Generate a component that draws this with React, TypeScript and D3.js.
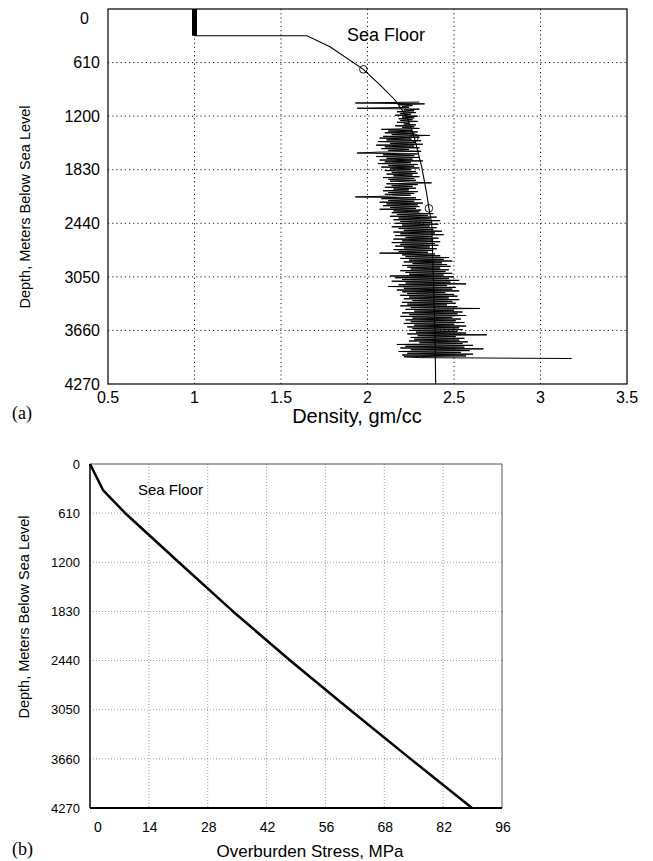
import React from 'react';
import * as d3 from 'd3';

// ---------- data ----------
const depthTicks = [0, 610, 1220, 1830, 2440, 3050, 3660, 4270];
const depthTickLabels = ['0', '610', '1200', '1830', '2440', '3050', '3660', '4270'];
const densityTicks = [0.5, 1, 1.5, 2, 2.5, 3, 3.5];
const densityTickLabels = ['0.5', '1', '1.5', '2', '2.5', '3', '3.5'];
const stressTicks = [0, 13.79, 27.58, 41.37, 55.16, 68.95, 82.74, 96.53];
const stressTickLabels = ['0', '14', '28', '42', '56', '68', '82', '96'];

const waterDensity = 1.0;
const seaFloorDepth = 305;

// compaction trend (density vs depth)
const trendDensity = [1.0, 1.65, 1.783, 1.976, 2.072, 2.159, 2.227, 2.271, 2.313, 2.342, 2.355, 2.371, 2.38, 2.39, 2.394];
const trendDepth = [305, 305, 429, 687, 865, 1036, 1226, 1466, 1796, 2099, 2270, 2437, 3052, 3655, 4270];

// calibration points (circles)
const markDensity = [1.976, 2.271, 2.355];
const markDepth = [687, 1466, 2270];

// density log, sampled every 10 m from 1060 m
const logStartDepth = 1060;
const logStepDepth = 10;
const densityLog = [
  2.30, 1.93, 2.33, 2.18, 2.26, 2.20, 2.24, 1.94, 2.30, 2.21,
  2.27, 2.17, 2.28, 2.19, 2.25, 2.16, 2.29, 2.20, 2.27, 2.18,
  2.26, 2.19, 2.29, 2.17, 2.24, 2.21, 2.28, 2.16, 2.27, 2.20,
  2.30, 2.08, 2.26, 2.12, 2.29, 2.10, 2.27, 2.14, 2.36, 2.09,
  2.30, 2.07, 2.25, 2.11, 2.31, 2.06, 2.28, 2.13, 2.32, 2.05,
  2.27, 2.10, 2.30, 2.08, 2.24, 2.12, 2.31, 2.06, 1.94, 2.29,
  2.09, 2.27, 2.05, 2.30, 2.11, 2.26, 2.07, 2.32, 2.10, 2.25,
  2.06, 2.29, 2.12, 2.27, 2.08, 2.30, 2.13, 2.25, 2.10, 2.28,
  2.14, 2.29, 2.11, 2.26, 2.15, 2.30, 2.09, 2.27, 2.12, 2.28,
  2.13, 2.25, 2.37, 2.11, 2.29, 2.14, 2.26, 2.10, 2.28, 2.15,
  2.24, 2.09, 2.29, 2.12, 2.27, 2.10, 2.25, 2.14, 1.93, 2.28,
  2.08, 2.31, 2.12, 2.27, 2.07, 2.32, 2.11, 2.29, 2.09, 2.30,
  2.13, 2.28, 2.07, 2.31, 2.15, 2.30, 2.14, 2.38, 2.17, 2.35,
  2.13, 2.40, 2.18, 2.36, 2.15, 2.42, 2.19, 2.37, 2.16, 2.41,
  2.20, 2.36, 2.14, 2.40, 2.18, 2.38, 2.21, 2.43, 2.15, 2.39,
  2.19, 2.44, 2.16, 2.37, 2.22, 2.41, 2.15, 2.38, 2.20, 2.42,
  2.14, 2.39, 2.19, 2.41, 2.16, 2.36, 2.21, 2.40, 2.15, 2.38,
  2.18, 2.35, 2.07, 2.39, 2.20, 2.42, 2.22, 2.47, 2.19, 2.44,
  2.24, 2.49, 2.21, 2.43, 2.26, 2.46, 2.20, 2.48, 2.23, 2.42,
  2.25, 2.47, 2.19, 2.45, 2.22, 2.49, 2.24, 2.44, 2.13, 2.50,
  2.16, 2.47, 2.20, 2.53, 2.14, 2.48, 2.22, 2.57, 2.18, 2.46,
  2.12, 2.51, 2.21, 2.49, 2.17, 2.53, 2.20, 2.45, 2.23, 2.50,
  2.19, 2.52, 2.24, 2.47, 2.21, 2.53, 2.26, 2.49, 2.20, 2.51,
  2.23, 2.46, 2.19, 2.52, 2.25, 2.65, 2.22, 2.50, 2.27, 2.55,
  2.20, 2.52, 2.24, 2.57, 2.19, 2.49, 2.26, 2.54, 2.22, 2.51,
  2.25, 2.56, 2.21, 2.50, 2.27, 2.57, 2.23, 2.53, 2.26, 2.55,
  2.24, 2.52, 2.28, 2.57, 2.23, 2.69, 2.29, 2.51, 2.25, 2.56,
  2.27, 2.53, 2.24, 2.58, 2.30, 2.55, 2.17, 2.61, 2.22, 2.56,
  2.19, 2.67, 2.25, 2.59, 2.18, 2.54, 2.23, 2.61, 2.20, 2.57,
  2.21, 2.30, 3.18,
];

// overburden stress vs depth
const stressValues = [0, 3.05, 8.2, 20.8, 33.5, 46.9, 60.9, 75.1, 89.5];
const stressDepth = [0, 323, 608, 1220, 1830, 2440, 3050, 3660, 4270];

// ---------- layout ----------
const W = 653;
const H = 861;
const A = { left: 108, right: 627, top: 9, bottom: 384 };
const B = { left: 90, right: 502, top: 464, bottom: 808 };
const SANS = 'Arial, "Liberation Sans", Helvetica, sans-serif';
const SERIF = '"Times New Roman", "Liberation Serif", serif';

export default function App() {
  const xA = d3.scaleLinear().domain([0.5, 3.5]).range([A.left, A.right]);
  const yA = d3.scaleLinear().domain([0, 4270]).range([A.top, A.bottom]);
  const xB = d3.scaleLinear().domain([0, 96.53]).range([B.left, B.right]);
  const yB = d3.scaleLinear().domain([0, 4270]).range([B.top, B.bottom]);

  const trendLine = d3
    .line<number>()
    .x((_, i) => xA(trendDensity[i]))
    .y((_, i) => yA(trendDepth[i]))(trendDensity) as string;

  const logLine = d3
    .line<number>()
    .x((d) => xA(d))
    .y((_, i) => yA(logStartDepth + i * logStepDepth))(densityLog) as string;

  const stressLine = d3
    .line<number>()
    .x((d) => xB(d))
    .y((_, i) => yB(stressDepth[i]))(stressValues) as string;

  return (
    <svg width={W} height={H} style={{ position: 'absolute', left: 0, top: 0, background: '#fff' }}>
      {/* ===== (a) Density ===== */}
      <g>
        {densityTicks.slice(1, -1).map((t) => (
          <line key={'gx' + t} x1={xA(t)} x2={xA(t)} y1={A.top} y2={A.bottom} stroke="#000" strokeWidth={0.9} strokeDasharray="1.2,3" />
        ))}
        {depthTicks.slice(1, -1).map((t) => (
          <line key={'gy' + t} x1={A.left} x2={A.right} y1={yA(t)} y2={yA(t)} stroke="#000" strokeWidth={0.9} strokeDasharray="1.2,3" />
        ))}
        {/* water column */}
        <line x1={xA(waterDensity)} x2={xA(waterDensity)} y1={yA(0)} y2={yA(seaFloorDepth)} stroke="#000" strokeWidth={5} />
        <path d={trendLine} fill="none" stroke="#000" strokeWidth={1.1} />
        <path d={logLine} fill="none" stroke="#000" strokeWidth={1} strokeLinejoin="miter" />
        {markDensity.map((d, i) => (
          <circle key={'m' + i} cx={xA(d)} cy={yA(markDepth[i])} r={3.8} fill="none" stroke="#000" strokeWidth={0.9} />
        ))}
        <rect x={A.left} y={A.top} width={A.right - A.left} height={A.bottom - A.top} fill="none" stroke="#000" strokeWidth={1.2} />
        {depthTicks.map((t, i) => (
          <text key={'ya' + t} x={i === 0 ? A.left - 19 : A.left - 8} y={i === 0 ? yA(t) + 9 : yA(t)} dy="0.36em" textAnchor="end" fontFamily={SANS} fontSize={16} fill="#000">
            {depthTickLabels[i]}
          </text>
        ))}
        {densityTicks.map((t, i) => (
          <text key={'xa' + t} x={xA(t)} y={A.bottom + 19} textAnchor="middle" fontFamily={SANS} fontSize={16} fill="#000">
            {densityTickLabels[i]}
          </text>
        ))}
        <text x={357} y={423} textAnchor="middle" fontFamily={SANS} fontSize={20} fill="#000">Density, gm/cc</text>
        <text transform={`translate(30,207) rotate(-90)`} textAnchor="middle" fontFamily={SANS} fontSize={14.5} fill="#000">
          Depth, Meters Below Sea Level
        </text>
        <text x={347} y={41} fontFamily={SANS} fontSize={18} fill="#000">Sea Floor</text>
        <text x={12} y={419} fontFamily={SERIF} fontSize={18} fill="#000">(a)</text>
      </g>

      {/* ===== (b) Overburden ===== */}
      <g>
        {stressTicks.slice(1, -1).map((t) => (
          <line key={'gbx' + t} x1={xB(t)} x2={xB(t)} y1={B.top} y2={B.bottom} stroke="#888" strokeWidth={0.8} strokeDasharray="1,2" />
        ))}
        {depthTicks.slice(1, -1).map((t) => (
          <line key={'gby' + t} x1={B.left} x2={B.right} y1={yB(t)} y2={yB(t)} stroke="#888" strokeWidth={0.8} strokeDasharray="1,2" />
        ))}
        <line x1={B.left} x2={B.right} y1={B.top} y2={B.top} stroke="#555" strokeWidth={1} />
        <line x1={B.right} x2={B.right} y1={B.top} y2={B.bottom} stroke="#555" strokeWidth={1} />
        <line x1={B.left} x2={B.left} y1={B.top} y2={B.bottom} stroke="#000" strokeWidth={1.5} />
        <line x1={B.left} x2={B.right} y1={B.bottom} y2={B.bottom} stroke="#000" strokeWidth={2} />
        <path d={stressLine} fill="none" stroke="#000" strokeWidth={2.5} strokeLinejoin="round" />
        {depthTicks.map((t, i) => (
          <text key={'yb' + t} x={B.left - 10} y={yB(t)} dy="0.36em" textAnchor="end" fontFamily={SANS} fontSize={13} fill="#000">
            {depthTickLabels[i]}
          </text>
        ))}
        {stressTicks.map((t, i) => (
          <text key={'xb' + t} x={i === 0 ? xB(t) + 8 : xB(t) + 1} y={832} textAnchor="middle" fontFamily={SANS} fontSize={14} fill="#000">
            {stressTickLabels[i]}
          </text>
        ))}
        <text x={310} y={857} textAnchor="middle" fontFamily={SANS} fontSize={17} fill="#000">Overburden Stress, MPa</text>
        <text transform={`translate(29,617) rotate(-90)`} textAnchor="middle" fontFamily={SANS} fontSize={14.5} fill="#000">
          Depth, Meters Below Sea Level
        </text>
        <text x={138} y={495} fontFamily={SANS} fontSize={15} fill="#000">Sea Floor</text>
        <text x={12} y={855} fontFamily={SERIF} fontSize={18} fill="#000">(b)</text>
      </g>
    </svg>
  );
}
